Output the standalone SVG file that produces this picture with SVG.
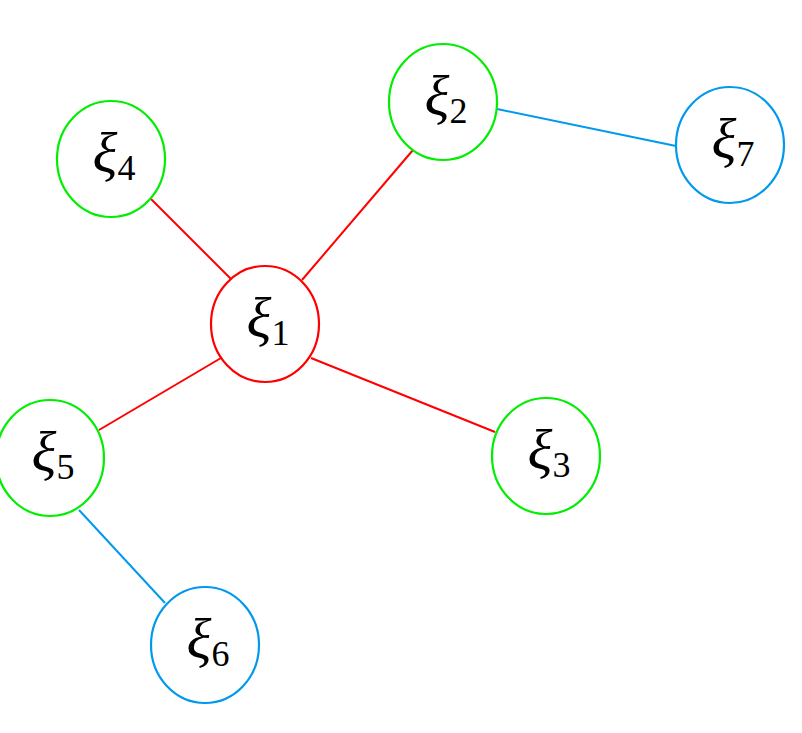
<svg xmlns="http://www.w3.org/2000/svg" width="802" height="733" viewBox="0 0 802 733">
<style>
.n{fill:none;stroke-width:2.2}
.r{stroke:#ff0000}.g{stroke:#00ee00}.b{stroke:#0099ee}
.l{font-family:"Liberation Serif","DejaVu Serif",serif;font-size:58px;fill:#000;text-anchor:middle}
.x{font-style:italic}
.s{font-size:36px;font-family:"Liberation Serif",serif}
.e{stroke-width:2;fill:none}
</style>
<rect width="802" height="733" fill="#fff"/>
<g id="edges">
<line class="e r" x1="231" y1="279" x2="151" y2="199"/>
<line class="e r" x1="302" y1="280" x2="413" y2="150"/>
<line class="e r" x1="221" y1="358" x2="99" y2="430"/>
<line class="e r" x1="311" y1="358" x2="495" y2="432"/>
<line class="e b" x1="497" y1="109" x2="676" y2="146"/>
<line class="e b" x1="79" y1="510" x2="165" y2="603"/>
</g>
<g id="n1"><ellipse class="n r" cx="265" cy="324" rx="54" ry="58"/><text class="l" x="268" y="337"><tspan class="x">ξ</tspan><tspan class="s" dy="8">1</tspan></text></g>
<g id="n2"><ellipse class="n g" cx="443" cy="102" rx="54" ry="58"/><text class="l" x="446" y="115"><tspan class="x">ξ</tspan><tspan class="s" dy="8">2</tspan></text></g>
<g id="n3"><ellipse class="n g" cx="546" cy="456" rx="54" ry="58"/><text class="l" x="549" y="469"><tspan class="x">ξ</tspan><tspan class="s" dy="8">3</tspan></text></g>
<g id="n4"><ellipse class="n g" cx="111" cy="159" rx="54" ry="58"/><text class="l" x="114" y="172"><tspan class="x">ξ</tspan><tspan class="s" dy="8">4</tspan></text></g>
<g id="n5"><ellipse class="n g" cx="50" cy="458" rx="54" ry="58"/><text class="l" x="53" y="471"><tspan class="x">ξ</tspan><tspan class="s" dy="8">5</tspan></text></g>
<g id="n6"><ellipse class="n b" cx="205" cy="645" rx="54" ry="58"/><text class="l" x="208" y="658"><tspan class="x">ξ</tspan><tspan class="s" dy="8">6</tspan></text></g>
<g id="n7"><ellipse class="n b" cx="730" cy="145" rx="54" ry="58"/><text class="l" x="733" y="158"><tspan class="x">ξ</tspan><tspan class="s" dy="8">7</tspan></text></g>
</svg>
